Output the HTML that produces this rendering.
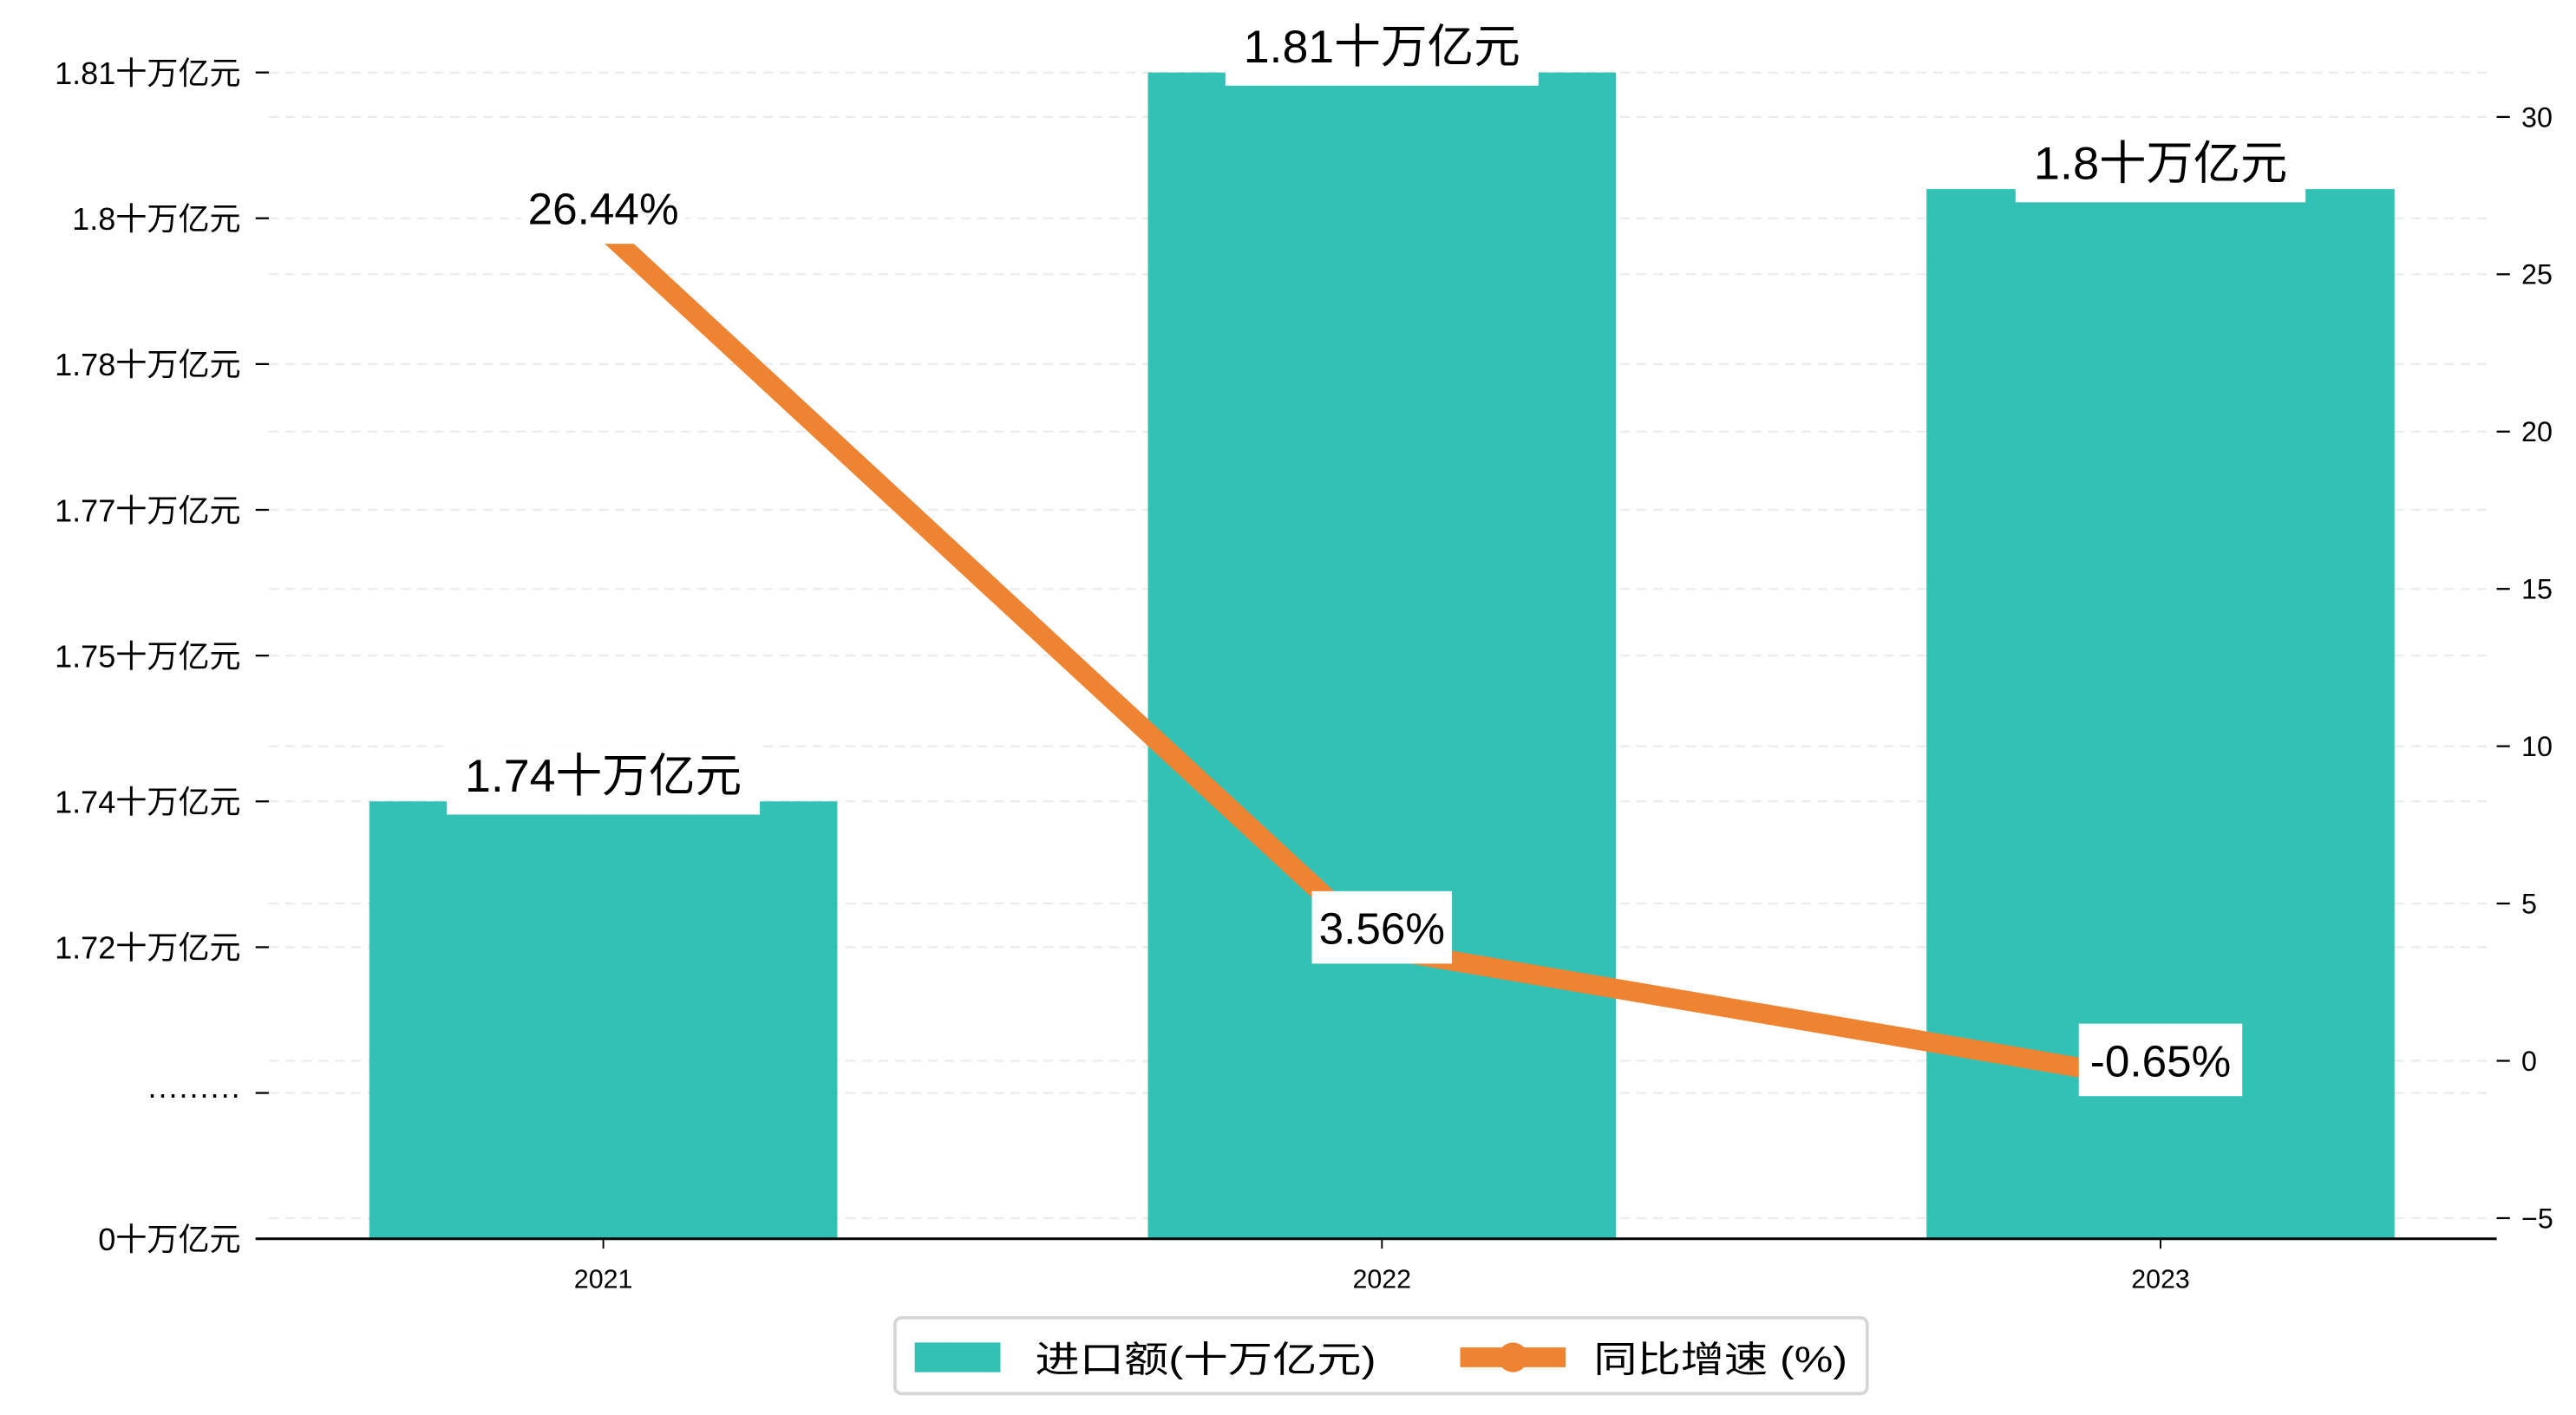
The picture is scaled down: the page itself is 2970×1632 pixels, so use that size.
<!DOCTYPE html>
<html><head><meta charset="utf-8"><style>
html,body{margin:0;padding:0;background:#fff;}
svg{display:block;font-family:"Liberation Sans","Noto Sans CJK SC",sans-serif;}
</style></head><body>
<svg id="chart" width="2970" height="1632" viewBox="0 0 1563 859" xmlns="http://www.w3.org/2000/svg">
<g id="grid"></g>
<g id="bars"></g>
<g id="line"></g>
<g id="labels"></g>
<g id="axes"></g>
<g id="legend">
  <rect x="543" y="800" width="590" height="46" rx="4" fill="#fff" stroke="#d6d6d6" stroke-width="2"/>
  <g>
    <rect x="555" y="815" width="52" height="18" fill="#32C1B4"/>
    <text x="628" y="833" font-size="22" textLength="207" lengthAdjust="spacingAndGlyphs">进口额(十万亿元)</text>
  </g>
  <g>
    <line x1="886" y1="824" x2="950" y2="824" stroke="#EE8432" stroke-width="12"/>
    <circle cx="918" cy="824" r="9" fill="#EE8432"/>
    <text x="967" y="833" font-size="22" textLength="154" lengthAdjust="spacingAndGlyphs">同比增速 (%)</text>
  </g>
</g>
</svg>
<script>
const categories = ["2021", "2022", "2023"];
const importValues = [1.74, 1.81, 1.802];
const importLabels = ["1.74十万亿元", "1.81十万亿元", "1.8十万亿元"];
const growthValues = [26.44, 3.56, -0.65];
const growthLabels = ["26.44%", "3.56%", "-0.65%"];
const leftTickValues = [0, 0.5, 1.72, 1.74, 1.75, 1.77, 1.78, 1.80, 1.81];
const leftTickLabels = ["0十万亿元", "·········", "1.72十万亿元", "1.74十万亿元", "1.75十万亿元", "1.77十万亿元", "1.78十万亿元", "1.8十万亿元", "1.81十万亿元"];
const rightTicks = [-5, 0, 5, 10, 15, 20, 25, 30];

const NS = "http://www.w3.org/2000/svg";
const X0 = 155, X1 = 1515, BASE = 752, TOP = 44;
const tickStep = (BASE - TOP) / (leftTickValues.length - 1);
function xScale(i){ return 366 + i * 472.5; }
function yLeft(v){
  for (let i = 0; i < leftTickValues.length - 1; i++){
    const a = leftTickValues[i], b = leftTickValues[i+1];
    if (v <= b || i === leftTickValues.length - 2){
      return BASE - (i + (v - a) / (b - a)) * tickStep;
    }
  }
}
function yRight(v){ return 644 - v * (644 - 71) / 30; }
function mk(tag, attrs, parent){
  const e = document.createElementNS(NS, tag);
  for (const k in attrs) e.setAttribute(k, attrs[k]);
  parent.appendChild(e);
  return e;
}
const grid = document.getElementById('grid'), bars = document.getElementById('bars'),
      lineG = document.getElementById('line'), labels = document.getElementById('labels'),
      axes = document.getElementById('axes');

// gridlines
leftTickValues.forEach((v, i) => {
  const y = BASE - i * tickStep;
  if (i === 0) return;
  const g = mk('line', {x1: 163, x2: 1512, y1: y, y2: y, stroke: '#ececec', 'stroke-width': 1.2, 'stroke-dasharray': '6,4'}, grid);
  
  
});
rightTicks.forEach(v => {
  const y = yRight(v);
  const g = mk('line', {x1: 163, x2: 1512, y1: y, y2: y, stroke: '#ececec', 'stroke-width': 1.2, 'stroke-dasharray': '6,4'}, grid);
  
  
});

// bars
const bw = 284;
categories.forEach((c, i) => {
  const x = xScale(i), yt = yLeft(importValues[i]);
  const r = mk('rect', {x: x - bw/2, y: yt, width: bw, height: BASE - yt, fill: '#32C1B4'}, bars);
  
  
});

// line
const pts = growthValues.map((v, i) => xScale(i) + ',' + yRight(v)).join(' ');
const pl = mk('polyline', {points: pts, fill: 'none', stroke: '#EE8432', 'stroke-width': 12, 'stroke-linejoin': 'miter'}, lineG);



// labels
function boxLabel(cx, cy, txt, name){
  const w = txt.length * 14.2 + 14;
  const g = mk('g', {}, labels);
  
  
  mk('rect', {x: cx - w/2, y: cy - 22, width: w, height: 44, fill: '#fff'}, g);
  const t = mk('text', {x: cx, y: cy + 10, 'font-size': 27, 'text-anchor': 'middle'}, g);
  t.textContent = txt;
}
function barLabel(cx, top, txt, name){
  const n = txt.length;
  const cjk = (txt.match(/[^\x00-\x7f]/g) || []).length;
  const tw = (n - cjk) * 14 + cjk * 28;
  const w = tw + 22;
  const g = mk('g', {}, labels);
  
  
  mk('rect', {x: cx - w/2, y: top - 34, width: w, height: 42, fill: '#fff'}, g);
  const t = mk('text', {x: cx, y: top - 6, 'font-size': 28, 'text-anchor': 'middle', textLength: tw, lengthAdjust: 'spacingAndGlyphs'}, g);
  t.textContent = txt;
}
growthValues.forEach((v, i) => boxLabel(xScale(i), yRight(v) - 13, growthLabels[i], 'growth-label-' + categories[i]));
importValues.forEach((v, i) => barLabel(xScale(i), yLeft(v), importLabels[i], 'bar-label-' + categories[i]));

// axes
const sp = mk('line', {x1: X0, x2: X1, y1: BASE, y2: BASE, stroke: '#000', 'stroke-width': 1.6}, axes);


categories.forEach((c, i) => {
  const x = xScale(i);
  mk('line', {x1: x, x2: x, y1: BASE, y2: BASE + 6, stroke: '#000', 'stroke-width': 1}, axes);
  const t = mk('text', {x: x, y: 782, 'font-size': 16, 'text-anchor': 'middle'}, axes);
  
  
  t.textContent = c;
});
leftTickLabels.forEach((lab, i) => {
  const y = BASE - i * tickStep;
  mk('line', {x1: 155, x2: 163, y1: y, y2: y, stroke: '#000', 'stroke-width': 1.2}, axes);
  const t = mk('text', {x: 146, y: y + 7, 'font-size': 19, 'text-anchor': 'end'}, axes);
  
  
  t.textContent = lab;
});
rightTicks.forEach(v => {
  const y = yRight(v);
  mk('line', {x1: 1515, x2: 1523, y1: y, y2: y, stroke: '#000', 'stroke-width': 1.2}, axes);
  const t = mk('text', {x: 1530, y: y + 6, 'font-size': 17}, axes);
  
  
  t.textContent = v < 0 ? '−' + Math.abs(v) : String(v);
});
</script>
</body></html>
